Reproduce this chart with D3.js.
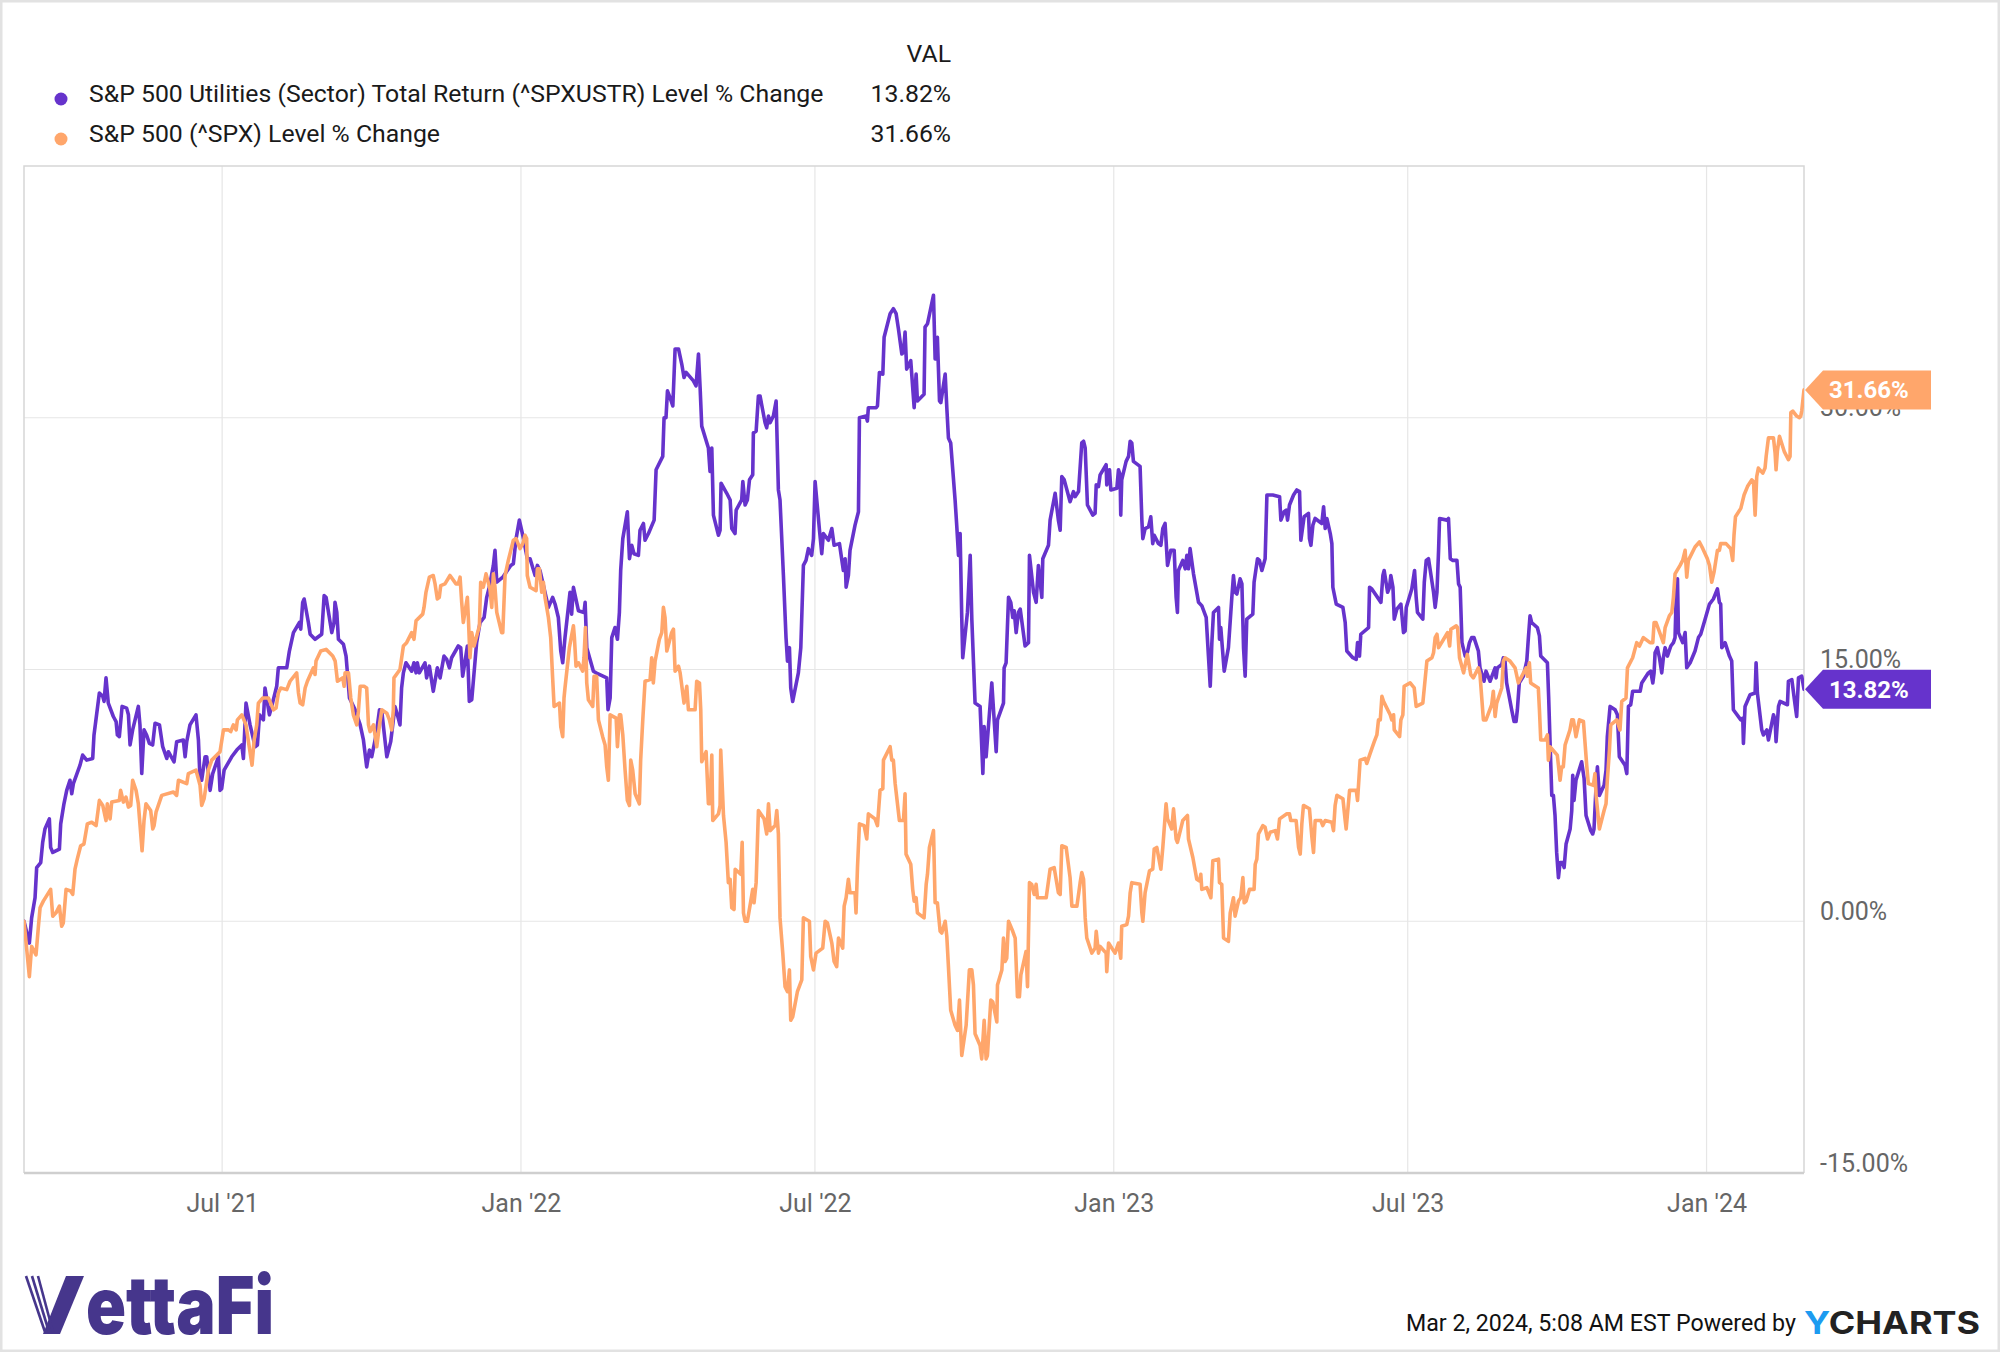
<!DOCTYPE html>
<html>
<head>
<meta charset="utf-8">
<script src="https://cdn.jsdelivr.net/npm/d3@7"></script>
<style>
  html, body { margin: 0; padding: 0; background: #fff; }
  svg { display: block; font-family: Roboto, "Noto Sans", sans-serif; }
</style>
</head>
<body>
<svg id="chart" width="2000" height="1352"></svg>
<script>
// Utilities sector vs S&P 500, % change since Mar 1 2021 (YCharts style)

const START_DATE = "2021-03-01";
const END_DATE = "2024-03-01";
const SERIES_NAMES = [
  "S&P 500 Utilities (Sector) Total Return (^SPXUSTR) Level % Change",
  "S&P 500 (^SPX) Level % Change"
];
const LAST_VALUES = [13.82, 31.66];
const COLORS = ["#6633cc", "#ffa66b"];
const Y_TICKS = [-15, 0, 15, 30];
const X_TICKS = ["2021-07-01", "2022-01-01", "2022-07-01", "2023-01-01", "2023-07-01", "2024-01-01"];
const FOOTER = "Mar 2, 2024, 5:08 AM EST Powered by";

// [days since START_DATE, % change]
const utilPoints = [
  [0,0],[3.3,-1.3],[4.7,0.2],[6.8,1.4],[7.8,3.2],[10.3,3.5],[11.5,4.7],[12.9,5.5],[15.6,6.1],[16.4,4.4],[17.7,4.1],[21.8,4.3],[22.6,5.8],[24.6,7.0],[26.3,7.8],[28.3,8.4],[29.4,7.6],[30.4,8.2],[34.5,9.3],[36.1,9.9],[38.6,9.6],[42.3,9.7],[43.1,11.1],[46.4,13.6],[48.5,13.4],[49.3,13.1],[50.5,14.5],[51.9,13.0],[55.0,12.2],[56.7,11.9],[57.5,11.1],[58.7,11.0],[60.4,12.8],[63.2,12.7],[64.3,12.3],[65.3,10.5],[66.9,11.4],[70.4,12.8],[71.4,11.7],[72.5,8.8],[73.9,11.4],[75.5,11.1],[77.2,10.6],[79.2,10.5],[80.7,11.8],[83.4,11.7],[85.4,10.4],[87.9,9.7],[88.9,10.1],[92.4,9.5],[94.0,10.7],[98.1,10.8],[99.2,9.8],[100.2,10.7],[102.2,11.7],[105.9,12.3],[107.4,10.8],[108.4,8.4],[109.4,8.4],[111.5,9.8],[112.5,9.8],[114.6,7.8],[116.2,8.8],[119.7,9.8],[120.7,7.8],[121.7,7.9],[123.2,9.0],[127.9,9.8],[131.0,10.2],[134.1,10.5],[135.1,9.7],[136.7,13.0],[139.2,11.7],[142.3,10.4],[143.7,10.5],[145.0,12.3],[147.4,12.0],[148.4,13.9],[151.1,12.3],[152.5,12.8],[155.6,14.0],[156.6,15.1],[161.8,15.1],[163.4,16.1],[165.9,17.2],[169.6,17.8],[170.4,17.4],[171.6,19.0],[172.5,19.2],[175.1,17.8],[176.2,17.1],[179.2,16.8],[183.3,17.1],[184.8,19.4],[186.0,19.3],[189.5,17.2],[190.9,17.8],[191.5,19.0],[192.6,18.4],[193.6,16.8],[196.7,16.5],[198.3,15.8],[200.4,13.3],[203.9,12.6],[207.0,11.7],[209.0,10.8],[211.0,9.2],[212.7,10.2],[214.1,9.8],[216.8,11.1],[218.9,12.6],[220.3,12.5],[223.4,9.8],[225.8,10.7],[228.4,12.8],[229.9,12.3],[231.5,11.7],[232.5,13.9],[233.6,14.8],[235.2,15.4],[238.7,14.9],[240.1,15.4],[241.4,14.8],[242.2,15.4],[243.4,14.8],[246.9,15.4],[247.9,14.5],[249.6,15.2],[252.0,13.7],[254.5,15.1],[256.2,14.5],[258.6,15.8],[260.3,15.6],[261.9,15.1],[263.3,15.7],[267.4,16.4],[268.9,16.3],[270.1,14.6],[271.6,15.5],[273.0,16.4],[274.2,13.1],[275.7,13.2],[278.7,16.6],[280.8,17.8],[283.3,18.1],[284.9,19.3],[286.5,19.9],[289.0,21.2],[290.0,22.1],[291.1,20.2],[294.8,20.5],[299.7,21.2],[301.3,21.3],[303.0,22.8],[305.0,23.9],[307.1,23.0],[309.9,21.6],[311.6,21.6],[314.7,20.6],[316.1,21.2],[317.7,20.9],[320.8,19.6],[322.9,18.7],[325.5,19.3],[327.0,18.9],[329.0,18.1],[330.5,16.1],[331.7,15.4],[333.1,16.9],[336.2,19.6],[337.2,18.3],[338.3,19.9],[341.4,18.5],[344.8,18.4],[345.5,19.0],[346.5,16.3],[350.6,14.9],[352.2,14.8],[358.8,14.5],[359.6,12.6],[360.9,13.3],[361.9,16.9],[363.9,17.5],[365.4,16.8],[366.6,18.4],[367.4,20.9],[368.7,22.8],[371.5,24.4],[372.8,21.6],[374.2,22.4],[375.6,21.9],[378.3,21.8],[379.3,23.3],[381.4,23.7],[382.4,22.7],[384.5,23.1],[388.0,23.9],[389.2,26.9],[393.3,27.7],[394.1,30.0],[395.3,30.0],[396.2,31.6],[397.8,31.2],[399.5,30.7],[400.9,34.1],[403.0,34.1],[405.0,33.2],[406.4,32.4],[407.7,32.7],[412.2,32.2],[413.8,31.9],[415.3,33.8],[416.3,31.8],[417.3,29.5],[421.4,28.2],[422.4,26.8],[423.5,28.2],[424.5,24.2],[427.6,23.0],[428.6,23.3],[429.2,26.1],[432.7,25.5],[434.8,25.1],[435.8,23.4],[437.8,23.1],[438.5,24.5],[441.9,25.1],[442.6,26.2],[444.0,24.8],[445.4,25.1],[446.7,26.3],[448.7,26.6],[449.1,29.1],[450.8,29.2],[452.2,31.3],[453.2,31.3],[456.3,29.7],[457.3,29.4],[458.4,30.1],[459.4,29.7],[461.4,30.1],[463.1,31.0],[464.5,25.7],[465.5,25.1],[467.6,20.6],[469.2,16.9],[470.1,15.5],[471.3,16.3],[472.1,13.9],[473.3,13.1],[476.8,14.8],[478.3,16.3],[479.9,21.2],[481.5,21.5],[483.0,22.2],[485.0,21.8],[486.1,22.8],[487.1,26.2],[489.8,23.3],[491.2,21.9],[492.2,23.1],[495.3,22.7],[497.4,23.4],[498.8,22.4],[502.1,22.5],[504.5,20.9],[505.6,21.6],[506.2,19.9],[507.6,20.6],[508.6,22.1],[511.7,23.6],[513.8,24.4],[514.4,30.0],[518.5,30.1],[519.3,29.8],[519.9,30.6],[524.7,30.6],[525.5,30.7],[526.7,32.7],[528.8,32.6],[529.6,34.8],[533.3,36.2],[535.3,36.5],[537.0,36.2],[538.4,35.3],[540.5,33.8],[541.5,33.9],[542.5,35.1],[543.5,32.9],[546.0,33.4],[547.2,31.8],[548.1,30.6],[549.3,32.6],[550.1,31.0],[554.2,31.4],[554.8,35.4],[556.3,35.6],[560.0,37.3],[561.0,33.5],[562.4,34.8],[563.7,31.0],[564.5,30.9],[567.2,32.6],[568.2,30.6],[569.2,28.8],[570.6,28.5],[573.3,25.1],[574.3,23.6],[575.4,21.8],[576.4,23.1],[577.4,18.1],[578.0,15.7],[580.9,18.4],[582.6,21.8],[583.6,18.0],[585.6,13.0],[588.7,12.8],[590.4,8.8],[591.2,11.6],[592.4,9.8],[595.9,14.2],[598.6,10.1],[599.4,12.0],[603.1,13.0],[603.5,15.1],[604.7,15.4],[606.2,19.3],[607.6,19.0],[608.8,18.1],[609.7,18.5],[610.9,17.2],[612.3,18.4],[613.4,18.6],[616.4,16.4],[618.5,16.6],[619.1,21.8],[621.6,19.6],[623.2,19.0],[624.6,21.2],[626.7,19.3],[627.3,21.6],[630.8,22.4],[631.8,23.9],[634.9,25.5],[636.9,23.9],[638.0,23.3],[639.0,26.5],[640.5,26.3],[644.1,25.0],[646.2,25.6],[647.2,25.3],[649.3,25.6],[651.3,28.5],[652.4,28.6],[653.4,28.2],[654.8,24.8],[658.1,24.2],[659.5,24.3],[660.2,26.0],[661.6,25.9],[662.6,26.6],[666.3,27.2],[666.7,26.0],[668.4,26.9],[669.2,25.7],[672.9,25.8],[673.9,26.9],[674.9,26.6],[675.3,24.2],[675.9,26.3],[678.6,27.4],[680.1,27.7],[681.1,28.6],[682.1,28.5],[683.1,27.4],[687.2,27.1],[688.3,23.9],[688.9,22.8],[690.3,23.4],[692.4,23.5],[693.8,24.1],[695.0,22.5],[695.9,23.0],[698.5,22.5],[700.0,22.4],[701.2,23.4],[702.6,23.7],[704.1,21.2],[706.1,22.1],[708.2,22.1],[709.4,19.3],[710.2,18.4],[710.8,20.9],[713.5,21.5],[715.0,21.0],[716.0,21.8],[717.0,21.0],[718.0,22.2],[720.1,20.7],[723.2,19.0],[725.2,18.8],[727.9,18.1],[729.3,15.8],[730.4,14.0],[731.4,16.6],[732.4,18.4],[735.5,18.7],[736.1,16.8],[736.9,17.5],[739.0,14.9],[741.6,16.3],[743.7,19.3],[744.7,20.6],[745.7,19.6],[746.8,19.5],[748.8,20.4],[749.9,20.1],[750.9,16.3],[751.9,14.6],[752.9,18.0],[756.6,18.3],[757.4,20.2],[759.5,21.6],[760.7,21.5],[762.2,20.9],[764.2,21.6],[765.3,25.4],[768.9,25.4],[773.1,25.3],[773.9,23.9],[775.9,24.4],[777.2,24.5],[778.0,23.9],[779.2,24.8],[781.7,25.4],[783.7,25.7],[785.4,25.6],[786.2,22.7],[788.2,24.1],[790.9,24.3],[791.5,22.8],[792.4,22.4],[793.6,23.6],[795.0,24.0],[799.1,23.7],[800.2,24.7],[801.2,23.4],[802.2,24.0],[804.3,23.1],[805.3,22.5],[805.9,19.9],[808.0,18.9],[812.1,18.7],[813.5,17.8],[814.5,16.1],[818.2,15.7],[820.3,15.6],[821.1,16.6],[822.3,15.8],[823.1,17.1],[827.9,17.5],[828.5,19.9],[829.9,19.8],[835.5,19.0],[836.7,20.6],[837.5,20.9],[839.6,19.6],[840.8,19.9],[841.6,20.6],[842.9,19.9],[843.7,18.0],[845.3,18.6],[847.8,18.9],[849.4,17.2],[850.4,17.3],[851.1,18.7],[854.5,19.8],[856.2,20.9],[857.2,19.3],[858.0,18.4],[861.3,18.0],[862.2,20.2],[863.4,21.5],[864.8,21.6],[867.9,19.6],[868.9,18.7],[870.0,19.6],[871.0,22.1],[871.6,24.0],[876.1,23.9],[877.1,24.0],[878.2,21.6],[879.8,21.5],[882.3,21.5],[883.3,20.1],[884.3,19.9],[885.4,16.6],[887.4,15.8],[888.7,16.0],[890.0,16.6],[891.4,16.9],[892.8,16.9],[895.5,16.1],[896.5,15.1],[899.0,14.3],[900.2,14.9],[902.7,14.3],[905.8,15.1],[906.4,14.5],[907.2,15.1],[909.9,15.3],[910.9,15.7],[911.9,15.5],[912.9,14.2],[916.0,12.6],[917.5,11.9],[918.7,11.9],[919.5,12.6],[920.7,14.2],[923.2,14.6],[925.3,15.5],[926.3,16.9],[927.3,18.2],[928.3,17.8],[931.8,17.5],[933.1,17.0],[933.9,15.8],[938.0,15.4],[938.8,13.3],[939.6,10.8],[940.7,7.5],[941.7,7.5],[942.7,6.3],[943.7,4.1],[944.8,2.6],[945.8,3.5],[947.4,3.5],[948.3,3.2],[949.5,4.6],[952.0,5.5],[953.0,6.6],[953.6,8.7],[954.4,7.2],[955.6,8.4],[959.1,9.5],[960.6,8.5],[961.8,6.3],[964.7,5.4],[965.9,5.2],[966.7,5.5],[968.0,8.1],[968.8,9.2],[970.0,7.5],[972.9,8.1],[974.1,9.0],[974.9,11.0],[976.6,12.8],[979.7,12.6],[981.1,12.3],[982.3,9.8],[985.8,9.3],[986.9,8.8],[987.9,12.8],[989.3,12.9],[990.5,13.7],[995.1,13.7],[996.1,14.2],[1000.2,14.8],[1001.6,14.9],[1002.9,14.2],[1003.7,14.8],[1004.3,16.0],[1005.7,16.3],[1007.0,15.7],[1008.4,14.8],[1009.4,15.7],[1010.5,16.3],[1011.9,15.8],[1014.0,16.4],[1015.6,16.6],[1016.6,16.9],[1017.2,19.0],[1018.1,20.4],[1018.7,17.2],[1021.3,16.6],[1022.8,17.2],[1023.8,15.1],[1025.9,15.4],[1028.9,16.1],[1031.0,16.9],[1032.4,17.1],[1035.1,18.0],[1037.8,18.9],[1040.2,19.2],[1042.7,19.8],[1043.9,19.0],[1044.7,18.9],[1045.4,16.3],[1047.4,16.6],[1050.1,15.8],[1051.5,15.5],[1052.5,12.6],[1057.1,12.0],[1058.3,12.1],[1058.7,10.6],[1059.7,12.8],[1062.8,13.5],[1065.9,13.6],[1066.5,15.4],[1067.3,13.6],[1070.0,11.4],[1071.0,11.1],[1073.1,11.4],[1074.1,10.8],[1077.2,12.3],[1078.2,12.0],[1078.8,10.7],[1080.3,12.8],[1081.3,13.1],[1085.8,12.9],[1086.4,14.3],[1088.5,14.4],[1090.5,12.9],[1091.5,12.2],[1092.6,14.5],[1094.6,14.6],[1096,13.82]
];

const spxPoints = [
  [0,0],[3.3,-3.3],[4.7,-1.5],[7.4,-2.0],[8.8,-0.4],[9.9,0.8],[11.9,1.2],[16.4,1.9],[17.7,0.3],[19.7,0.5],[21.8,0.9],[23.2,-0.3],[24.2,-0.1],[25.9,1.9],[28.7,1.8],[30.0,1.6],[31.4,3.1],[32.8,3.7],[34.9,4.5],[36.9,4.6],[39.0,5.8],[41.7,5.9],[44.4,5.7],[46.4,7.2],[48.5,6.9],[50.5,6.0],[51.3,7.0],[53.0,6.1],[54.0,7.1],[58.7,7.2],[59.5,7.8],[61.2,7.1],[62.8,7.4],[64.3,6.8],[65.7,6.9],[66.9,8.4],[69.0,7.8],[70.4,7.0],[72.7,4.2],[73.9,6.0],[75.1,7.0],[78.0,6.6],[79.3,5.5],[80.1,5.7],[81.3,6.5],[84.8,7.5],[92.0,7.7],[94.0,7.5],[95.1,8.4],[100.2,8.2],[101.2,8.8],[105.9,9.0],[108.4,8.1],[109.4,6.9],[110.9,7.3],[113.5,9.0],[115.6,9.6],[120.7,10.1],[122.8,11.4],[125.9,11.4],[127.3,11.3],[128.9,11.7],[130.6,11.4],[131.4,12.0],[134.1,12.3],[136.7,11.7],[138.2,10.7],[140.4,9.3],[141.7,10.8],[143.3,11.7],[144.3,13.0],[147.0,13.3],[150.5,13.3],[153.6,12.6],[155.2,12.7],[156.6,13.6],[158.1,13.9],[161.8,13.8],[163.8,14.3],[167.9,14.8],[169.0,13.6],[170.0,13.0],[171.6,12.9],[173.1,13.9],[174.5,14.3],[178.2,15.1],[179.2,14.7],[179.8,15.5],[182.7,16.1],[186.0,16.2],[190.1,15.8],[191.6,15.5],[193.0,14.3],[196.3,14.5],[197.1,14.0],[197.7,14.8],[199.8,14.8],[201.2,13.3],[202.8,12.3],[204.9,11.7],[205.9,12.5],[207.0,14.0],[209.4,14.0],[211.0,13.9],[212.1,11.7],[213.1,11.3],[215.2,11.7],[217.2,10.4],[218.9,11.7],[220.3,12.6],[223.4,12.4],[225.0,12.0],[226.4,11.4],[227.4,12.6],[227.8,14.5],[231.5,15.0],[233.6,16.4],[235.6,16.6],[238.7,17.2],[240.1,16.8],[241.4,17.9],[245.5,18.3],[246.3,18.7],[247.5,19.6],[249.6,20.5],[252.0,20.6],[253.1,20.1],[254.5,19.2],[255.7,19.3],[256.6,20.0],[259.2,20.1],[262.3,20.6],[266.0,20.1],[267.4,20.1],[268.5,20.5],[269.5,19.0],[270.5,17.8],[273.0,19.3],[273.6,18.1],[274.6,15.7],[275.7,17.2],[277.1,16.4],[280.4,17.6],[281.2,20.2],[282.8,19.9],[284.5,20.7],[286.9,19.8],[288.0,18.7],[289.0,20.7],[290.0,19.9],[291.1,18.4],[294.1,17.2],[294.8,17.2],[296.2,20.6],[298.2,21.5],[301.3,22.7],[303.0,22.8],[305.4,22.2],[307.1,22.5],[308.5,23.0],[309.5,22.8],[309.9,20.6],[311.6,19.9],[315.3,19.7],[316.1,21.0],[317.3,21.0],[318.8,19.6],[319.8,20.2],[320.8,19.3],[322.9,18.1],[324.3,16.9],[325.5,14.5],[326.4,12.8],[329.7,13.0],[330.5,11.6],[331.7,11.0],[332.5,13.3],[333.1,13.9],[335.8,16.3],[338.3,17.6],[338.9,16.9],[339.9,15.2],[341.4,15.4],[344.0,14.9],[344.8,15.7],[345.7,17.5],[346.5,14.2],[347.5,13.2],[350.2,12.8],[351.0,14.6],[352.6,14.6],[353.7,12.0],[356.3,11.0],[357.8,10.5],[358.8,9.2],[359.8,8.4],[360.9,12.3],[364.6,12.1],[365.4,10.4],[366.6,12.3],[367.4,12.3],[368.7,11.1],[370.1,9.0],[371.5,7.2],[372.8,6.9],[373.6,9.6],[374.8,9.0],[376.3,7.6],[378.9,7.0],[379.7,9.6],[381.0,12.0],[382.4,14.3],[385.5,14.4],[386.5,15.7],[387.5,14.2],[388.6,15.5],[391.2,16.8],[392.7,17.2],[393.7,18.7],[394.7,18.1],[395.8,16.1],[398.8,17.2],[399.9,17.4],[400.9,14.9],[403.0,15.2],[404.0,14.8],[406.4,13.0],[408.1,14.0],[409.1,12.6],[413.2,12.6],[414.2,14.3],[415.9,14.2],[416.7,12.6],[417.3,9.5],[420.0,10.1],[421.4,7.0],[422.4,7.0],[423.5,9.9],[424.1,6.0],[427.6,6.4],[428.6,6.9],[429.0,10.2],[430.7,6.3],[432.3,4.7],[433.7,2.3],[434.8,2.5],[435.8,0.8],[437.2,0.7],[437.9,3.1],[441.3,2.8],[442.2,4.7],[443.0,0.5],[444.0,0.0],[445.4,0.0],[447.5,1.2],[448.7,1.9],[449.5,1.1],[450.8,2.3],[452.2,6.6],[455.7,6.1],[457.3,5.2],[458.4,7.0],[459.4,5.4],[462.5,5.7],[463.5,6.6],[464.5,5.2],[465.5,0.2],[467.2,-1.9],[468.6,-3.9],[470.1,-4.2],[471.3,-2.9],[472.1,-5.9],[473.3,-5.7],[476.2,-4.2],[478.9,-3.5],[479.9,0.2],[483.6,0.0],[484.4,-2.1],[486.1,-2.9],[487.7,-1.9],[491.8,-1.6],[493.3,0.0],[494.7,-0.1],[497.4,-1.3],[498.8,-2.4],[500.4,-2.7],[501.5,-1.0],[504.1,-1.6],[505.0,0.9],[506.2,1.4],[507.6,2.5],[508.6,1.7],[511.7,1.7],[512.3,0.5],[513.2,3.2],[514.4,5.8],[517.3,5.7],[518.9,4.9],[519.9,6.4],[524.0,6.1],[525.5,5.7],[527.1,7.8],[528.8,7.9],[529.2,9.6],[533.3,10.4],[534.3,9.6],[535.3,9.6],[536.4,8.2],[539.0,6.0],[541.5,6.0],[542.5,7.6],[543.1,4.0],[546.0,3.4],[547.2,1.9],[548.1,1.2],[549.3,1.4],[550.1,0.5],[554.2,0.2],[555.5,2.2],[556.3,2.8],[557.5,4.4],[560.0,5.4],[561.0,1.1],[562.4,1.1],[564.1,-0.6],[565.1,-0.7],[567.2,0.0],[568.2,-0.9],[569.2,-2.7],[570.6,-5.3],[573.3,-6.2],[574.8,-6.5],[576.0,-4.7],[577.4,-8.0],[580.1,-6.2],[582.1,-2.9],[583.6,-2.9],[584.6,-3.8],[585.6,-6.7],[588.7,-7.4],[589.7,-8.2],[591.2,-5.9],[592.4,-8.2],[593.2,-8.0],[595.3,-4.7],[596.5,-4.8],[599.0,-6.0],[599.4,-3.8],[602.1,-2.9],[603.1,-1.0],[604.1,-2.4],[605.1,-2.2],[606.2,0.0],[608.8,-0.6],[610.3,-1.0],[611.7,-4.5],[612.9,-4.5],[613.8,-3.2],[617.0,-1.8],[617.9,-3.9],[619.1,2.3],[620.5,2.2],[622.0,1.6],[623.2,2.2],[624.0,1.4],[629.4,1.4],[631.8,3.1],[634.3,3.2],[636.9,1.7],[638.0,1.6],[639.0,4.5],[641.7,4.4],[644.1,2.6],[645.2,0.9],[648.3,0.9],[650.3,2.3],[651.3,2.9],[652.4,2.5],[653.4,0.2],[654.4,-1.0],[657.5,-1.9],[659.5,-1.6],[660.2,-0.6],[661.6,-1.9],[662.6,-1.5],[666.3,-1.9],[666.7,-3.0],[667.8,-1.3],[671.8,-1.9],[673.9,-1.3],[675.3,-2.2],[675.9,-0.3],[679.0,-0.2],[680.1,0.3],[681.1,1.7],[682.1,2.3],[687.2,2.2],[688.3,0.5],[688.9,0.0],[690.3,1.7],[693.0,3.0],[695.0,3.1],[695.9,4.3],[697.5,4.4],[700.0,3.1],[701.2,4.4],[703.2,7.0],[704.1,6.1],[706.7,5.5],[707.8,6.7],[709.4,4.9],[710.2,4.7],[713.5,6.0],[716.4,6.3],[717.0,4.9],[719.7,3.8],[722.1,2.5],[723.8,2.4],[724.6,2.8],[725.2,1.9],[728.3,2.0],[730.8,1.4],[732.0,3.6],[735.5,3.7],[736.1,2.3],[737.5,2.2],[738.6,-1.0],[741.6,-1.2],[742.7,0.5],[744.7,1.4],[745.7,0.3],[747.8,1.2],[749.2,1.4],[750.5,2.6],[751.3,1.1],[752.5,1.2],[754.6,1.9],[757.4,1.9],[758.1,3.4],[759.1,3.7],[760.1,5.2],[762.8,5.7],[764.2,5.6],[765.7,4.9],[767.3,5.3],[770.4,5.4],[771.8,4.9],[773.1,6.1],[777.6,6.4],[779.2,6.4],[780.0,6.0],[783.3,6.0],[784.8,4.4],[785.8,4.0],[786.8,5.8],[787.8,6.9],[791.5,6.7],[793.0,5.0],[794.0,4.1],[795.0,6.0],[798.5,6.0],[799.7,5.7],[801.2,6.0],[805.3,5.9],[806.3,5.4],[807.3,6.9],[808.4,7.5],[812.1,7.3],[813.5,6.0],[814.1,5.5],[816.2,7.8],[820.3,7.8],[821.1,7.2],[822.7,9.6],[825.8,9.7],[826.8,9.4],[828.5,9.9],[831.4,10.7],[833.0,11.1],[834.0,12.0],[835.1,12.0],[836.1,13.4],[837.1,13.1],[841.2,12.3],[842.2,12.0],[843.3,12.3],[843.7,11.4],[847.0,11.0],[847.8,12.0],[849.0,12.3],[849.8,14.0],[853.5,14.2],[856.0,13.9],[857.2,12.8],[861.3,13.0],[862.8,14.5],[863.8,15.5],[866.9,15.7],[867.9,16.0],[868.9,16.9],[870.0,17.1],[871.0,16.3],[874.1,16.8],[876.5,17.2],[877.8,16.4],[878.6,17.4],[881.9,17.6],[882.7,17.5],[883.9,15.7],[886.4,14.8],[888.7,15.9],[890.8,14.7],[892.4,14.5],[895.5,15.1],[896.5,14.7],[898.6,12.0],[900.2,12.0],[903.7,12.9],[904.7,13.7],[905.8,12.2],[906.8,13.0],[909.9,13.9],[910.9,15.5],[911.9,15.7],[915.0,15.5],[918.1,15.1],[920.1,14.2],[924.9,15.1],[925.7,14.6],[926.9,15.4],[927.7,14.2],[932.4,13.9],[933.1,12.6],[933.9,10.8],[936.6,10.8],[938.0,11.1],[938.6,9.6],[939.6,10.4],[944.1,9.9],[945.8,8.4],[946.8,9.2],[947.8,9.2],[948.9,10.5],[951.9,11.4],[953.0,12.0],[954.0,12.0],[955.6,11.0],[957.7,12.0],[960.2,11.9],[962.2,9.3],[963.2,8.2],[966.3,8.1],[967.3,8.8],[968.0,7.5],[970.0,5.5],[972.9,6.6],[974.1,7.0],[974.9,8.4],[976.2,10.2],[977.0,11.7],[980.7,12.0],[982.7,11.4],[983.8,13.1],[986.4,13.3],[987.3,15.1],[990.5,15.7],[993.0,16.6],[994.7,16.4],[997.1,16.9],[1001.2,16.6],[1002.9,16.6],[1003.7,17.8],[1004.9,17.8],[1009.4,16.6],[1010.5,17.5],[1013.1,18.2],[1014.6,18.4],[1015.6,19.3],[1016.6,20.7],[1019.7,21.2],[1021.3,21.5],[1022.8,22.1],[1023.8,20.5],[1024.8,21.5],[1028.9,22.3],[1031.6,22.6],[1033.7,22.2],[1036.5,21.6],[1037.8,21.2],[1039.2,20.2],[1040.6,20.8],[1042.7,22.1],[1043.9,22.1],[1044.7,22.5],[1048.0,22.5],[1050.9,22.2],[1052.1,21.5],[1052.9,23.0],[1053.8,24.1],[1057.1,24.6],[1059.1,25.4],[1061.2,25.9],[1063.8,26.3],[1064.9,26.2],[1065.9,24.2],[1066.9,26.5],[1067.9,27.0],[1070.6,26.7],[1072.0,27.0],[1072.7,27.7],[1074.1,28.8],[1077.2,28.8],[1078.2,27.9],[1078.8,26.9],[1079.6,28.0],[1080.9,28.9],[1083.8,28.0],[1086.4,27.5],[1087.4,27.7],[1087.9,30.3],[1089.1,30.4],[1091.5,30.1],[1093.2,30.0],[1094.0,30.1],[1094.6,30.4],[1096,31.66]
];

const W = 2000, H = 1352;
const plot = { left: 24, right: 1804, top: 166, bottom: 1173 };
const parse = d3.timeParse("%Y-%m-%d");
const start = parse(START_DATE), end = parse(END_DATE);
const toDate = d => d3.timeMinute.offset(start, Math.round(d * 1440));
const pct = v => v.toFixed(2) + "%";   // plain hyphen for negatives, as on the source

const x = d3.scaleTime().domain([start, end]).range([plot.left, plot.right]);
const y = d3.scaleLinear().domain([-15, 45]).range([plot.bottom, plot.top]);

const svg = d3.select("#chart");
svg.append("rect").attr("width", W).attr("height", H).attr("fill", "#fff");
svg.append("rect").attr("x", 1).attr("y", 1).attr("width", W - 2).attr("height", H - 2)
  .attr("fill", "none").attr("stroke", "#e2e2e2").attr("stroke-width", 3);

// gridlines
const grid = svg.append("g");
grid.selectAll("line.gx").data(X_TICKS.map(parse)).join("line")
  .attr("x1", d => x(d)).attr("x2", d => x(d))
  .attr("y1", plot.top).attr("y2", plot.bottom)
  .attr("stroke", "#e6e6e6").attr("stroke-width", 1.2);
grid.selectAll("line.gy").data(Y_TICKS.filter(v => v > -15)).join("line")
  .attr("x1", plot.left).attr("x2", plot.right)
  .attr("y1", d => y(d)).attr("y2", d => y(d))
  .attr("stroke", "#e6e6e6").attr("stroke-width", 1.2);

// frame
svg.append("path")
  .attr("d", `M${plot.left},${plot.bottom}V${plot.top}H${plot.right}V${plot.bottom}`)
  .attr("fill", "none").attr("stroke", "#d6d6d6").attr("stroke-width", 1.5);
svg.append("line")
  .attr("x1", plot.left).attr("x2", plot.right).attr("y1", plot.bottom).attr("y2", plot.bottom)
  .attr("stroke", "#cfcfcf").attr("stroke-width", 2.5);

// axes
const gX = svg.append("g").attr("transform", `translate(0,${plot.bottom})`)
  .call(d3.axisBottom(x).tickValues(X_TICKS.map(parse)).tickFormat(d3.timeFormat("%b '%y")).tickSize(0));
gX.select(".domain").remove();
gX.selectAll("text").attr("y", 39).attr("dy", 0)
  .attr("font-size", 25).attr("font-family", "Roboto").attr("fill", "#666");

const gY = svg.append("g").attr("transform", `translate(${plot.right},0)`)
  .call(d3.axisRight(y).tickValues(Y_TICKS).tickFormat(pct).tickSize(0).tickPadding(16));
gY.select(".domain").remove();
gY.selectAll("text").attr("dy", -2)
  .attr("font-size", 25).attr("font-family", "Roboto").attr("fill", "#666");

// lines
svg.append("clipPath").attr("id", "clip").append("rect")
  .attr("x", plot.left).attr("y", plot.top - 4)
  .attr("width", plot.right - plot.left).attr("height", plot.bottom - plot.top + 4);
const line = d3.line().x(d => x(toDate(d[0]))).y(d => y(d[1]));
const lines = svg.append("g").attr("clip-path", "url(#clip)");
[utilPoints, spxPoints].forEach((pts, i) => {
  lines.append("path").attr("d", line(pts))
    .attr("fill", "none").attr("stroke", COLORS[i]).attr("stroke-width", 3.6)
    .attr("stroke-linejoin", "round").attr("stroke-linecap", "round");
});

// end value tags
LAST_VALUES.forEach((v, i) => {
  const cy = y(v), x0 = plot.right + 1, hh = 19.5;
  const g = svg.append("g");
  g.append("path")
    .attr("d", `M${x0},${cy}L${x0 + 18},${cy - hh}H${x0 + 126}V${cy + hh}H${x0 + 18}Z`)
    .attr("fill", COLORS[i]);
  g.append("text").attr("x", x0 + 24).attr("y", cy + 8.5)
    .attr("font-size", 24).attr("font-weight", 700).attr("fill", "#fff")
    .text(pct(v));
});

// legend
const leg = svg.append("g").attr("font-size", 24.8).attr("fill", "#1a1a1a");
leg.append("text").attr("x", 951).attr("y", 62).attr("text-anchor", "end").text("VAL");
SERIES_NAMES.forEach((name, i) => {
  const by = 102 + i * 40;
  leg.append("circle").attr("cx", 61).attr("cy", by - 3).attr("r", 6.5).attr("fill", COLORS[i]);
  leg.append("text").attr("x", 89).attr("y", by).text(name);
  leg.append("text").attr("x", 951).attr("y", by).attr("text-anchor", "end").text(pct(LAST_VALUES[i]));
});

// footer
svg.append("text").attr("x", 1796).attr("y", 1331).attr("text-anchor", "end")
  .attr("font-size", 23.2).attr("fill", "#111").text(FOOTER);
const yc = svg.append("text").attr("x", 1804).attr("y", 1334)
  .attr("font-size", 31).attr("font-weight", 700).attr("font-family", "Inter, Roboto")
  .attr("textLength", 176).attr("lengthAdjust", "spacingAndGlyphs");
yc.append("tspan").attr("fill", "#1d9bf0").text("Y");
yc.append("tspan").attr("fill", "#222").text("CHARTS");

// VettaFi logo
const logo = svg.append("g").attr("fill", "#46368c");
logo.append("path").attr("d", "M66,1276H84L60,1334H43Z");
[[25, 45], [31, 49], [37, 53]].forEach(([a, b]) => {
  logo.append("line").attr("x1", a + 1).attr("y1", 1276).attr("x2", b).attr("y2", 1332)
    .attr("stroke", "#46368c").attr("stroke-width", 2.6);
});
logo.append("text").attr("x", 86).attr("y", 1334)
  .attr("font-size", 80).attr("font-weight", 900).attr("font-family", "Inter, Roboto")
  .attr("textLength", 188).attr("lengthAdjust", "spacingAndGlyphs").text("ettaFi");
</script>
</body>
</html>
